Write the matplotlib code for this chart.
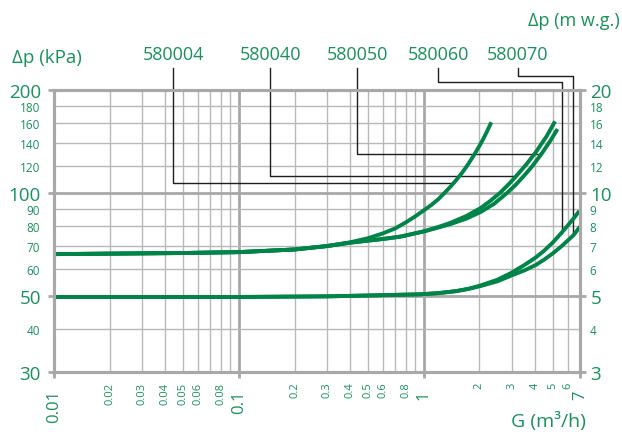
import numpy as np
import matplotlib
matplotlib.use("Agg")
import matplotlib.pyplot as plt

plt.rcParams['font.family'] = ['Open Sans', 'DejaVu Sans']

green = '#008448'
text_green = '#17925a'
grey = '#a8a8a8'

# flow G (m3/h) and pressure drop (kPa)
g_580004 = [0.01, 0.05, 0.1, 0.2, 0.3, 0.4, 0.5, 0.6, 0.7, 0.8, 0.9, 1.0, 1.1, 1.2, 1.3,
            1.4, 1.5, 1.6, 1.7, 1.8, 1.9, 2.0, 2.1, 2.2, 2.32]
p_580004 = [66.3, 66.8, 67.2, 68.4, 70.0, 71.8, 73.8, 76.2, 78.8, 82.1, 85.5, 89.0, 92.3, 96.0, 100.3,
            104.6, 109.2, 114.0, 119.3, 125.0, 131.0, 137.3, 144.0, 151.5, 161.0]

g_580040 = [0.01, 0.05, 0.1, 0.2, 0.3, 0.4, 0.5, 0.6, 0.75, 1.0, 1.2, 1.4, 1.7, 2.03, 2.3,
            2.61, 2.9, 3.14, 3.6, 4.05, 4.6, 4.85, 5.13]
p_580040 = [66.3, 66.8, 67.2, 68.4, 70.0, 71.6, 72.6, 73.4, 74.6, 77.3, 79.6, 81.9, 85.7, 90.4, 95.0,
            100.6, 106.5, 111.6, 121.5, 132.0, 146.0, 153.5, 162.0]

g_580050 = [0.01, 0.05, 0.1, 0.2, 0.3, 0.4, 0.5, 0.6, 0.75, 1.0, 1.2, 1.4, 1.7, 2.03, 2.4,
            2.8, 3.1, 3.45, 3.85, 4.35, 4.85, 5.05, 5.29]
p_580050 = [66.3, 66.8, 67.2, 68.4, 70.0, 71.6, 72.6, 73.4, 74.6, 77.2, 79.3, 81.2, 84.2, 88.0, 93.0,
            99.7, 104.9, 111.6, 119.5, 130.5, 142.4, 147.6, 153.8]

g_580060 = [0.01, 0.1, 0.3, 0.6, 0.96, 1.2, 1.5, 1.75, 2.03, 2.5, 2.95, 3.5, 4.03, 4.5, 5.0,
            5.56, 6.0, 6.5, 6.95]
p_580060 = [49.7, 49.7, 49.9, 50.3, 50.6, 51.0, 51.7, 52.5, 53.7, 55.8, 58.3, 61.6, 64.8, 68.0, 71.8,
            76.5, 80.3, 84.6, 88.7]

g_580070 = [0.01, 0.1, 0.3, 0.6, 0.96, 1.2, 1.5, 1.75, 2.03, 2.5, 2.95, 3.5, 4.03, 4.5, 5.0,
            5.56, 6.0, 6.45, 7.0]
p_580070 = [49.7, 49.7, 49.9, 50.3, 50.6, 51.0, 51.7, 52.5, 53.5, 55.2, 57.3, 59.4, 61.6, 64.0, 66.7,
            69.9, 72.6, 75.3, 79.8]

models = ['580004', '580040', '580050', '580060', '580070']
flows = [g_580004, g_580040, g_580050, g_580060, g_580070]
drops = [p_580004, p_580040, p_580050, p_580060, p_580070]

# leader lines: flow at the label, height of the bend, and (for the last two) flow where it drops to the curve
lead_g = [0.0441, 0.148, 0.438, 1.20, 3.22]
lead_p = [106.9, 112.1, 129.9, 211.0, 219.7]
drop_g = [None, None, None, 5.58, 6.40]

x_major = [0.01, 0.1, 1, 7]
x_minor = [0.02, 0.03, 0.04, 0.05, 0.06, 0.07, 0.08, 0.09,
           0.2, 0.3, 0.4, 0.5, 0.6, 0.7, 0.8, 0.9, 2, 3, 4, 5, 6]
x_minor_lbl = ['0.02', '0.03', '0.04', '0.05', '0.06', '', '0.08', '',
               '0.2', '0.3', '0.4', '0.5', '0.6', '', '0.8', '', '2', '3', '4', '5', '6']
y_major = [30, 50, 100, 200]
y_minor = [40, 60, 70, 80, 90, 120, 140, 160, 180]
r_major = [3, 5, 10, 20]
r_minor = [4, 6, 7, 8, 9, 12, 14, 16, 18]

fig = plt.figure(figsize=(6.22, 4.39), dpi=100)
ax = fig.add_axes([54 / 622, 1 - 373 / 439, 526 / 622, 282 / 439])
ax.set_xscale('log')
ax.set_yscale('log')
ax.set_xlim(0.01, 7)
ax.set_ylim(30, 200)

ax.set_xticks(x_major, [str(v) for v in x_major])
ax.set_xticks(x_minor, x_minor_lbl, minor=True)
ax.set_yticks(y_major, [str(v) for v in y_major])
ax.set_yticks(y_minor, [str(v) for v in y_minor], minor=True)

ax.grid(which='major', color=grey, lw=2.0)
ax.grid(which='minor', color='#b8b8b8', lw=1.0)
ax.set_axisbelow(True)

for s in ax.spines.values():
    s.set_color(grey)
    s.set_linewidth(2.2)

ax.tick_params(axis='x', which='major', length=4.5, width=2, color=grey, pad=8,
               labelsize=12, labelcolor=text_green, labelrotation=90)
ax.tick_params(axis='x', which='minor', length=0, pad=7,
               labelsize=8, labelcolor=text_green, labelrotation=90)
ax.tick_params(axis='y', which='major', length=4.5, width=2, color=grey, pad=5,
               labelsize=13.5, labelcolor=text_green)
ax.tick_params(axis='y', which='minor', length=0, pad=10,
               labelsize=8.5, labelcolor=text_green)

ax2 = ax.twinx()
ax2.set_yscale('log')
ax2.set_ylim(3, 20)
ax2.set_yticks(r_major, [str(v) for v in r_major])
ax2.set_yticks(r_minor, [str(v) for v in r_minor], minor=True)
for s in ax2.spines.values():
    s.set_color(grey)
    s.set_linewidth(2.2)
ax2.tick_params(axis='y', which='major', length=4.5, width=2, color=grey, pad=3,
                labelsize=13.5, labelcolor=text_green)
ax2.tick_params(axis='y', which='minor', length=0, pad=7,
                labelsize=8.5, labelcolor=text_green)

for g, p in zip(flows, drops):
    ax.plot(g, p, color=green, lw=2.8, solid_capstyle='butt',
            solid_joinstyle='round', zorder=3)

# leader lines from each model number down to its curve
top_p = 231.6
for name, g, p, lg, lp, dg in zip(models, flows, drops, lead_g, lead_p, drop_g):
    if dg is None:
        end_g = 10 ** np.interp(np.log10(lp), np.log10(p), np.log10(g))
        xs, ys = [lg, lg, end_g], [top_p, lp, lp]
    else:
        end_p = 10 ** np.interp(np.log10(dg), np.log10(g), np.log10(p))
        xs, ys = [lg, lg, dg, dg], [top_p, lp, lp, end_p]
    ax.plot(xs, ys, color='#1e1e1e', lw=1.0, clip_on=False, zorder=2)
    ax.text(lg, 246, name, ha='center', va='baseline', fontsize=13,
            color=text_green)

fig.text(12 / 622, 1 - 58 / 439, 'Δp (kPa)', ha='left', va='center',
         fontsize=13.5, color=text_green)
fig.text(620 / 622, 1 - 21 / 439, 'Δp (m w.g.)', ha='right', va='center',
         fontsize=13, color=text_green)
fig.text(548 / 622, 1 - 422 / 439, 'G (m³/h)', ha='center', va='center',
         fontsize=14, color=text_green)

fig.savefig('out.png', dpi=100)
